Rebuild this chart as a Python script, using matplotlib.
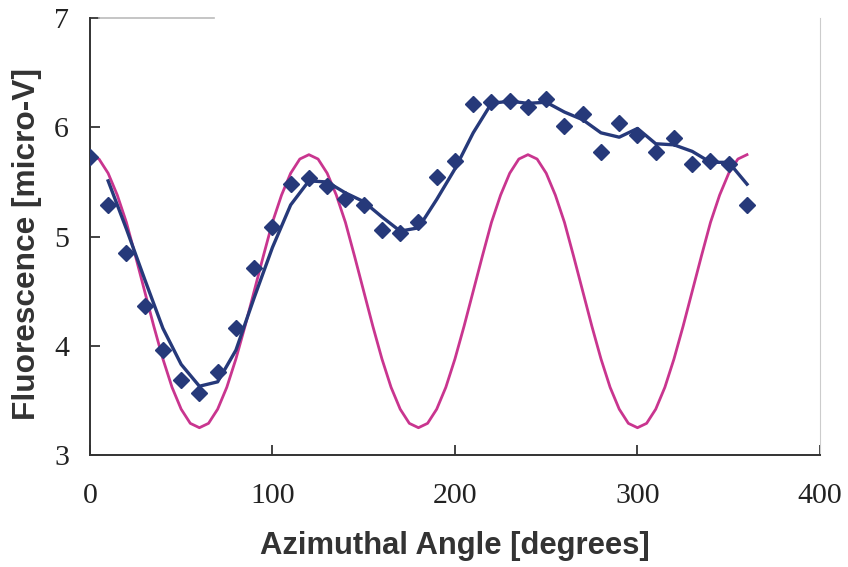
import numpy as np
import matplotlib
matplotlib.use("Agg")
import matplotlib.pyplot as plt

# data
angle = [0, 10, 20, 30, 40, 50, 60, 70, 80, 90, 100, 110, 120, 130, 140, 150,
         160, 170, 180, 190, 200, 210, 220, 230, 240, 250, 260, 270, 280, 290,
         300, 310, 320, 330, 340, 350, 360]
fluor = [5.73, 5.29, 4.85, 4.36, 3.96, 3.69, 3.57, 3.76, 4.16, 4.71, 5.09, 5.48,
         5.54, 5.46, 5.34, 5.29, 5.06, 5.03, 5.13, 5.55, 5.69, 6.21, 6.23, 6.24,
         6.19, 6.26, 6.01, 6.12, 5.77, 6.04, 5.93, 5.77, 5.90, 5.66, 5.69, 5.66,
         5.29]

# 2-point moving average trendline (as drawn)
trend_angle = angle[1:]
trend = [5.51, 5.07, 4.61, 4.16, 3.83, 3.63, 3.67, 3.96, 4.44, 4.90, 5.29, 5.51,
         5.50, 5.40, 5.32, 5.18, 5.05, 5.08, 5.34, 5.62, 5.95, 6.22, 6.24, 6.22,
         6.23, 6.14, 6.07, 5.95, 5.91, 5.99, 5.85, 5.84, 5.78, 5.68, 5.68, 5.48]

# model curve, sampled every 5 degrees
model_angle = list(range(0, 365, 5))
model_period = [5.75, 5.71, 5.58, 5.38, 5.13, 4.82, 4.50, 4.18, 3.88, 3.62, 3.42,
                3.29, 3.25, 3.29, 3.42, 3.62, 3.88, 4.18, 4.50, 4.82, 5.13, 5.38,
                5.58, 5.71]
model = (model_period * 4)[:len(model_angle)]

x_ticks = [0, 100, 200, 300, 400]
y_ticks = [3, 4, 5, 6, 7]

NAVY = '#26397a'
MAGENTA = '#c9358f'

plt.rcParams['font.family'] = ['Liberation Sans', 'DejaVu Sans']

fig = plt.figure(figsize=(8.48, 5.67), dpi=100)
ax = fig.add_axes([0.106, 0.1975, 0.861, 0.7705])

ax.plot(model_angle, model, color=MAGENTA, lw=2.0, zorder=2)
ax.plot(trend_angle, trend, color=NAVY, lw=2.4, zorder=3)
ax.plot(angle, fluor, ls='none', marker='D', ms=8.5, color=NAVY, zorder=4)

ax.set_xlim(0, 400)
ax.set_ylim(3, 7)
ax.set_xticks(x_ticks)
ax.set_yticks(y_ticks)
ax.tick_params(direction='in', length=7, width=1.2, labelsize=21.5,
               colors='#222222')
ax.tick_params(axis='x', pad=20)
ax.tick_params(axis='y', pad=15)
for lbl in ax.get_xticklabels() + ax.get_yticklabels():
    lbl.set_family(['Liberation Serif', 'DejaVu Serif'])

for s in ('left', 'bottom'):
    ax.spines[s].set_color('#333333')
    ax.spines[s].set_linewidth(1.4)
ax.spines['right'].set_color('#cccccc')
ax.spines['right'].set_linewidth(0.8)
ax.spines['top'].set_color('#bbbbbb')
ax.spines['top'].set_linewidth(1.2)
ax.spines['top'].set_bounds(5, 68)

ax.set_xlabel('Azimuthal Angle [degrees]', fontsize=22.3, fontweight='bold',
              color='#333333')
ax.set_ylabel('Fluorescence [micro-V]', fontsize=22.8, fontweight='bold',
              color='#333333')
ax.xaxis.set_label_coords(0.5, -0.173)
ax.yaxis.set_label_coords(-0.066, 0.483)

fig.savefig('out.png', dpi=100)
